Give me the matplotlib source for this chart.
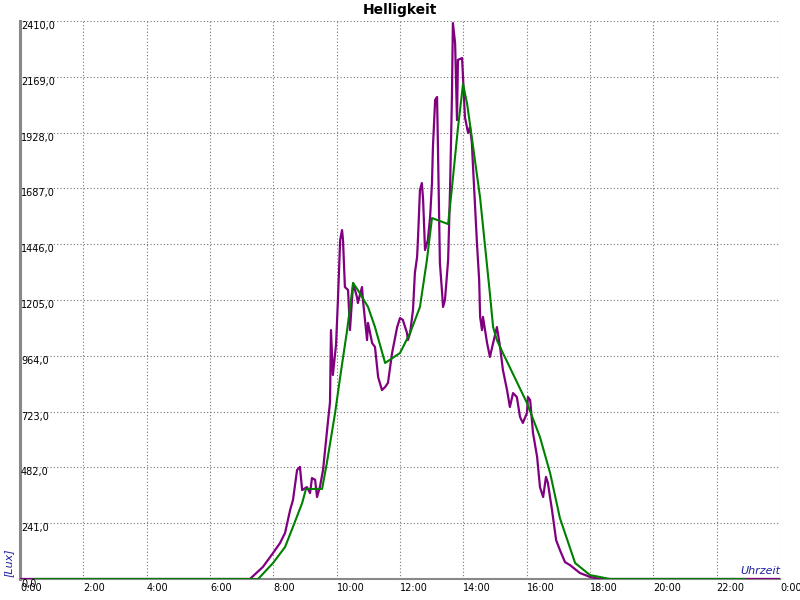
import matplotlib
matplotlib.use("Agg")
import matplotlib.pyplot as plt
from matplotlib.transforms import ScaledTranslation

# Helligkeit (purple, raw measurement): hours vs lux
raw_hours = [0.0, 7.20, 7.26, 7.67, 7.99, 8.21, 8.37, 8.53, 8.62, 8.75, 8.84, 8.91,
             9.06, 9.16, 9.22, 9.32, 9.38, 9.47, 9.57, 9.73, 9.79, 9.82, 9.88, 9.98,
             10.04, 10.11, 10.17, 10.20, 10.26, 10.36, 10.42, 10.52, 10.64, 10.67,
             10.80, 10.83, 10.96, 10.99, 11.12, 11.21, 11.31, 11.43, 11.53, 11.62,
             11.75, 11.91, 12.00, 12.09, 12.22, 12.25, 12.32, 12.41, 12.47, 12.54,
             12.57, 12.63, 12.69, 12.73, 12.79, 12.88, 12.95, 13.01, 13.04, 13.11,
             13.17, 13.20, 13.26, 13.33, 13.36, 13.42, 13.52, 13.58, 13.64, 13.67,
             13.74, 13.80, 13.83, 13.96, 13.99, 14.05, 14.15, 14.21, 14.27, 14.30,
             14.43, 14.50, 14.53, 14.59, 14.62, 14.75, 14.84, 14.94, 15.06, 15.09,
             15.16, 15.25, 15.38, 15.47, 15.57, 15.69, 15.79, 15.88, 16.01, 16.04,
             16.11, 16.20, 16.33, 16.42, 16.52, 16.61, 16.67, 16.80, 16.93, 17.05,
             17.21, 17.37, 17.68, 18.00, 18.32, 24.0]
raw_lux = [0, 0, 0, 52, 112, 155, 199, 298, 341, 471, 484, 384,
           397, 371, 436, 428, 354, 397, 471, 687, 764, 1075, 881, 1011,
           1205, 1464, 1507, 1464, 1261, 1248, 1075, 1278, 1218, 1192,
           1261, 1205, 1032, 1106, 1019, 1002, 872, 816, 829, 847,
           976, 1088, 1127, 1119, 1063, 1032, 1063, 1162, 1322, 1391,
           1477, 1680, 1710, 1637, 1421, 1464, 1563, 1710, 1866, 2069,
           2082, 1853, 1365, 1235, 1175, 1205, 1378, 1680, 2082, 2401,
           2315, 1982, 2242, 2250, 2168, 1995, 1926, 1952, 1883, 1797,
           1451, 1291, 1132, 1075, 1132, 1019, 959, 1019, 1088, 1063,
           1002, 903, 816, 743, 803, 786, 700, 674, 717, 786,
           773, 631, 527, 397, 354, 441, 415, 298, 168, 125,
           73, 60, 26, 9, 0, 0]

# Smoothed curve (green)
avg_hours = [0.47, 7.52, 7.99, 8.37, 8.62, 8.91, 9.03, 9.54, 9.69, 9.95, 10.11,
             10.33, 10.52, 10.67, 10.99, 11.21, 11.53, 12.00, 12.32, 12.63,
             12.85, 13.01, 13.52, 13.64, 13.83, 13.99, 14.12, 14.27, 14.53,
             14.84, 14.94, 15.06, 15.25, 16.01, 16.42, 16.74, 17.05, 17.53,
             18.00, 18.63, 22.90]
avg_lux = [0, 0, 69, 138, 225, 328, 389, 389, 501, 717, 872,
           1075, 1278, 1248, 1175, 1088, 933, 976, 1063, 1175,
           1378, 1559, 1533, 1689, 1948, 2138, 2052, 1905, 1646,
           1231, 1088, 1032, 976, 760, 613, 458, 263, 69,
           17, 0, 0]

y_ticks = [0, 241, 482, 723, 964, 1205, 1446, 1687, 1928, 2169, 2410]
x_ticks = list(range(0, 25, 2))
x_labels = ["0:00", "2:00", "4:00", "6:00", "8:00", "10:00", "12:00",
            "14:00", "16:00", "18:00", "20:00", "22:00", "0:00"]

fig = plt.figure(figsize=(8, 6), dpi=100)
ax = fig.add_axes([0.025, 0.035, 0.95, 0.93])

ax.plot(raw_hours, raw_lux, color="#800080", lw=1.6, zorder=3)
ax.plot(avg_hours, avg_lux, color="#008000", lw=1.5, zorder=4)

ax.set_xlim(0, 24)
ax.set_ylim(0, 2410)
ax.set_xticks(x_ticks)
ax.set_xticklabels(x_labels, fontsize=7)
shift = ScaledTranslation(1 / 100, 0, fig.dpi_scale_trans)
for lbl in ax.get_xticklabels():
    lbl.set_horizontalalignment("left")
    lbl.set_transform(lbl.get_transform() + shift)
ax.set_yticks(y_ticks)
ax.set_yticklabels([])
ax.tick_params(length=0, pad=3)
ax.tick_params(axis="y", length=0, pad=0)

for v in y_ticks:
    ax.text(0.03, v, f"{v:.1f}".replace(".", ","), fontsize=7, va="top",
            ha="left", zorder=5)

ax.grid(True, color="#777777", linestyle=(0, (1, 2)), linewidth=0.8)
ax.set_axisbelow(True)
for side in ["top", "right"]:
    ax.spines[side].set_visible(False)
ax.spines["left"].set_color("#888888")
ax.spines["left"].set_linewidth(2.2)
ax.spines["bottom"].set_color("#888888")
ax.spines["bottom"].set_linewidth(1.5)

ax.set_title("Helligkeit", fontsize=10, fontweight="bold", pad=5)
fig.text(0.011, 0.062, "[Lux]", rotation=90, color="#2020a0", fontsize=8,
         style="italic", ha="center", va="center")
ax.text(24, 12, "Uhrzeit", color="#2020a0", fontsize=8, style="italic",
        ha="right", va="bottom")

plt.savefig("out.png", dpi=100)
plt.close()
